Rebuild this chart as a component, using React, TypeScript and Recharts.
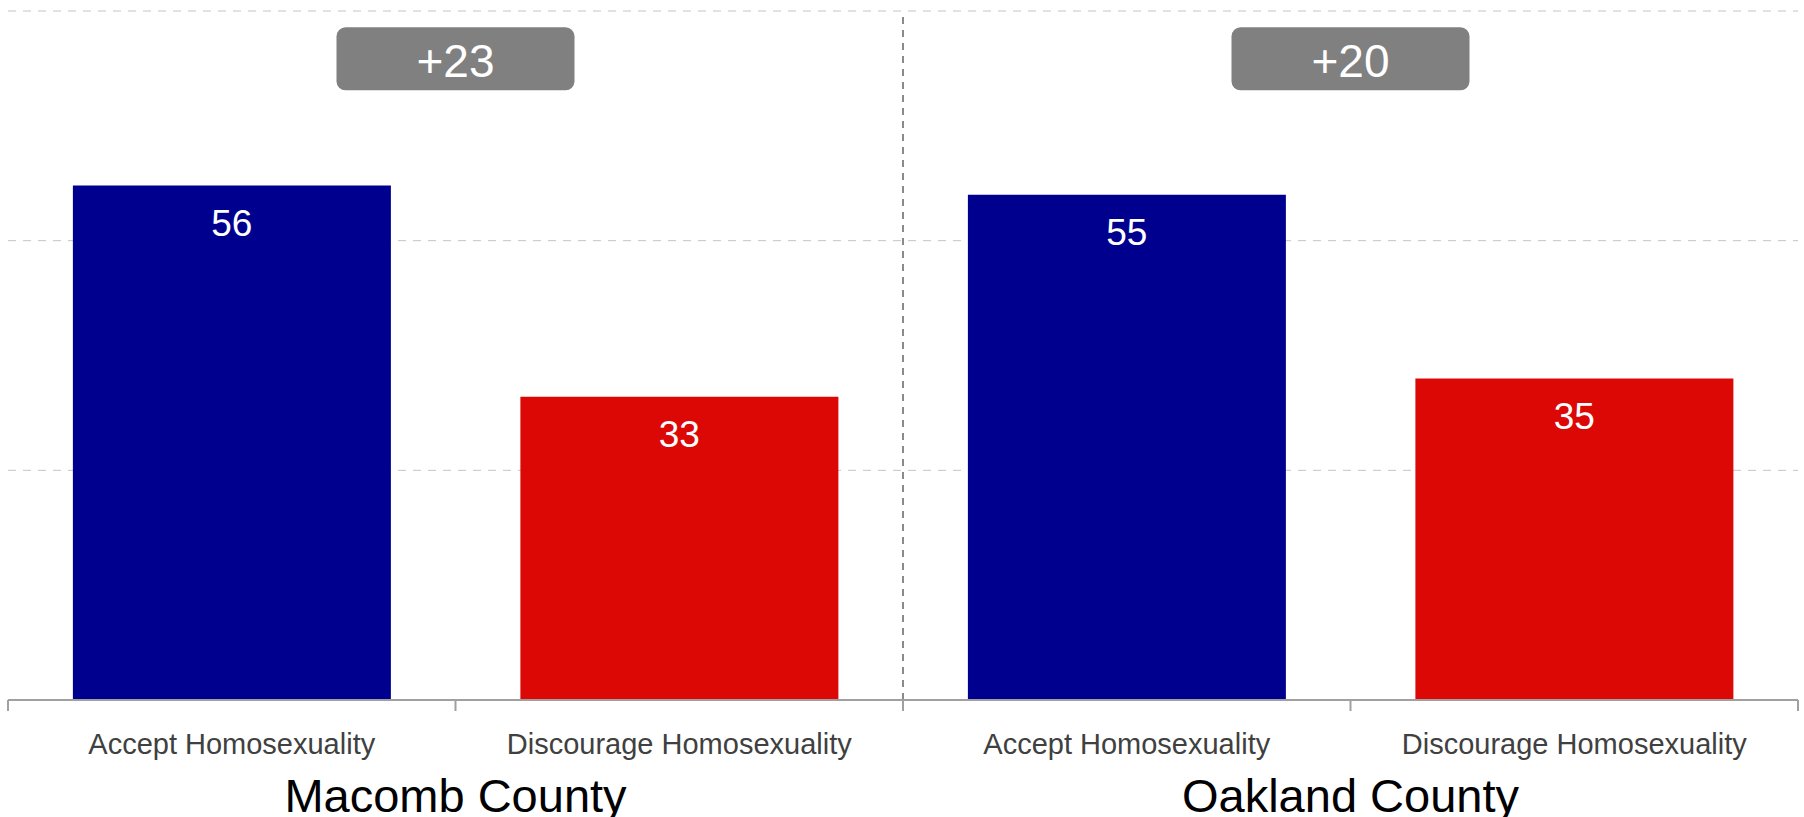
import React from 'react';
import {
  BarChart,
  Bar,
  Cell,
  XAxis,
  YAxis,
  CartesianGrid,
  ReferenceLine,
  ReferenceDot,
  LabelList,
} from 'recharts';

const categories = [
  'Accept Homosexuality',
  'Discourage Homosexuality',
  'Accept Homosexuality',
  'Discourage Homosexuality',
];
const counties = ['Macomb County', 'Oakland County'];
const values = [56, 33, 55, 35];
const barColors = ['#00008f', '#dc0806', '#00008f', '#dc0806'];
const yTicks = [0, 25, 50, 75];

const FONT = '"Liberation Sans", Arial, Helvetica, sans-serif';

// pos = centre of each bar's band on a 0..4 number scale
const chartData = categories.map((name, i) => ({ id: i, pos: i + 0.5, name, value: values[i] }));

// accept minus discourage, per county
const gaps = counties.map((_, i) => values[i * 2] - values[i * 2 + 1]);

const BarValue = (props: any) => {
  const { x, y, width, value } = props;
  return (
    <text
      x={x + width / 2}
      y={y + 38}
      fill="#fff"
      fontSize={37}
      fontFamily={FONT}
      textAnchor="middle"
      dominantBaseline="central"
    >
      {value}
    </text>
  );
};

const GapBadge = (label: string) => (props: any) => {
  const { cx, cy } = props;
  const w = 238;
  const h = 63;
  return (
    <g>
      <rect x={cx - w / 2} y={cy - h / 2} width={w} height={h} rx={9} fill="#808080" />
      <text
        x={cx}
        y={cy + 2}
        fill="#fff"
        fontSize={46}
        fontFamily={FONT}
        textAnchor="middle"
        dominantBaseline="central"
      >
        {label}
      </text>
    </g>
  );
};

// keeps the tick lines but draws no label
const NoLabel = () => <g />;

const CategoryTick = (props: any) => {
  const { x, y, payload } = props;
  return (
    <text
      x={x}
      y={y + 35}
      fill="#404040"
      fontSize={29}
      fontFamily={FONT}
      textAnchor="middle"
      dominantBaseline="central"
    >
      {categories[payload.value]}
    </text>
  );
};

const CountyTick = (props: any) => {
  const { x, y, payload } = props;
  return (
    <text
      x={x}
      y={y + 25}
      fill="#000"
      fontSize={47}
      fontFamily={FONT}
      textAnchor="middle"
      dominantBaseline="central"
    >
      {counties[(payload.value - 1) / 2]}
    </text>
  );
};

const App: React.FC = () => {
  return (
    <div style={{ position: 'fixed', left: 0, top: 0, background: '#fff' }}>
      <BarChart
        width={1804}
        height={817}
        data={chartData}
        margin={{ top: 11, right: 6, left: 8, bottom: 0 }}
        barCategoryGap="14.5%"
      >
        <CartesianGrid
          vertical={false}
          stroke="#c4c4c4"
          strokeDasharray="8 7"
          yAxisId="y"
          xAxisId="bounds"
        />
        <XAxis
          xAxisId="bounds"
          dataKey="pos"
          type="number"
          domain={[0, 4]}
          allowDataOverflow
          ticks={[0, 1, 2, 3, 4]}
          height={1}
          tick={<NoLabel />}
          tickSize={11}
          stroke="#a0a0a0"
          axisLine={{ stroke: '#a0a0a0', strokeWidth: 2 }}
          tickLine={{ stroke: '#a0a0a0', strokeWidth: 2 }}
        />
        <XAxis
          xAxisId="cat"
          dataKey="id"
          height={61}
          axisLine={false}
          tickLine={false}
          tick={<CategoryTick />}
          interval={0}
        />
        <XAxis
          xAxisId="county"
          dataKey="pos"
          type="number"
          domain={[0, 4]}
          allowDataOverflow
          ticks={[1, 3]}
          height={55}
          axisLine={false}
          tickLine={false}
          tick={<CountyTick />}
        />
        <YAxis yAxisId="y" hide domain={[0, 75]} ticks={yTicks} />
        <ReferenceLine
          xAxisId="bounds"
          yAxisId="y"
          x={2}
          stroke="#8a8a8a"
          strokeWidth={2}
          strokeDasharray="7 6"
        />
        <Bar dataKey="value" xAxisId="cat" yAxisId="y" isAnimationActive={false}>
          {chartData.map((d, i) => (
            <Cell key={d.id} fill={barColors[i]} />
          ))}
          <LabelList dataKey="value" content={<BarValue />} />
        </Bar>
        {gaps.map((g, i) => (
          <ReferenceDot
            key={counties[i]}
            xAxisId="bounds"
            yAxisId="y"
            x={i * 2 + 1}
            y={69.8}
            r={0}
            shape={GapBadge(`+${g}`)}
          />
        ))}
      </BarChart>
    </div>
  );
};

export default App;
